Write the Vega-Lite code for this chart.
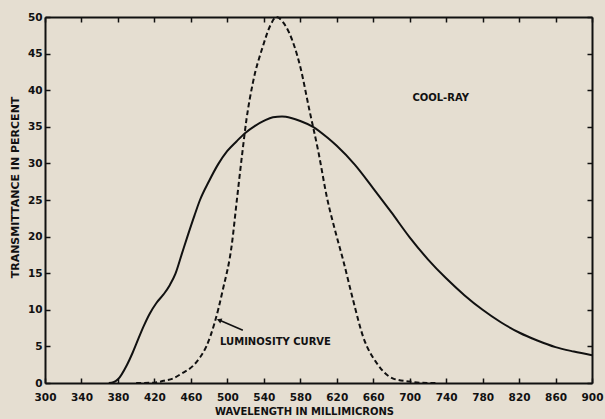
{
  "$schema": "https://vega.github.io/schema/vega-lite/v6.json",
  "width": 547,
  "height": 366,
  "autosize": {"type": "none"},
  "padding": {"left": 45, "top": 17, "right": 13, "bottom": 36},
  "background": "#e5ded1",
  "config": {
    "view": {"stroke": null},
    "font": "DejaVu Sans",
    "axis": {
      "grid": false,
      "domainColor": "#111111",
      "domainWidth": 2,
      "tickColor": "#111111",
      "tickWidth": 1.5,
      "labelColor": "#111111",
      "titleColor": "#111111",
      "labelFont": "DejaVu Sans",
      "titleFont": "DejaVu Sans",
      "labelFontSize": 10.5,
      "labelFontWeight": "bold",
      "titleFontSize": 10,
      "titleFontWeight": "bold"
    }
  },
  "datasets": {
    "cool": [
      {"nm": 370, "t": 0}, {"nm": 375, "t": 0.1}, {"nm": 380, "t": 0.5}, {"nm": 390, "t": 2.5},
      {"nm": 396, "t": 4.1}, {"nm": 400, "t": 5.3}, {"nm": 408, "t": 7.7}, {"nm": 415, "t": 9.5},
      {"nm": 422, "t": 10.9}, {"nm": 430, "t": 12.1}, {"nm": 437, "t": 13.4}, {"nm": 443, "t": 14.9},
      {"nm": 450, "t": 17.6}, {"nm": 457, "t": 20.3}, {"nm": 464, "t": 22.9}, {"nm": 470, "t": 25.0},
      {"nm": 480, "t": 27.6}, {"nm": 490, "t": 29.9}, {"nm": 500, "t": 31.7}, {"nm": 510, "t": 33.0},
      {"nm": 520, "t": 34.2}, {"nm": 530, "t": 35.1}, {"nm": 540, "t": 35.8}, {"nm": 550, "t": 36.3},
      {"nm": 560, "t": 36.4}, {"nm": 570, "t": 36.2}, {"nm": 580, "t": 35.8}, {"nm": 594, "t": 35.0},
      {"nm": 610, "t": 33.5}, {"nm": 620, "t": 32.4}, {"nm": 640, "t": 29.8}, {"nm": 660, "t": 26.6},
      {"nm": 680, "t": 23.3}, {"nm": 700, "t": 19.9}, {"nm": 720, "t": 16.9}, {"nm": 740, "t": 14.3},
      {"nm": 760, "t": 12.0}, {"nm": 780, "t": 10.0}, {"nm": 800, "t": 8.3}, {"nm": 820, "t": 6.9},
      {"nm": 840, "t": 5.8}, {"nm": 860, "t": 4.9}, {"nm": 880, "t": 4.3}, {"nm": 900, "t": 3.8}
    ],
    "lum": [
      {"nm": 400, "t": 0}, {"nm": 420, "t": 0.05}, {"nm": 430, "t": 0.3}, {"nm": 440, "t": 0.6},
      {"nm": 450, "t": 1.3}, {"nm": 462, "t": 2.3}, {"nm": 470, "t": 3.5}, {"nm": 477, "t": 5.0},
      {"nm": 486, "t": 8.2}, {"nm": 495, "t": 12.7}, {"nm": 505, "t": 19.0}, {"nm": 510, "t": 24.5},
      {"nm": 516, "t": 31.0}, {"nm": 521, "t": 36.0}, {"nm": 528, "t": 41.0}, {"nm": 539, "t": 46.0},
      {"nm": 547, "t": 48.8}, {"nm": 554, "t": 50.0}, {"nm": 561, "t": 49.3}, {"nm": 568, "t": 47.8},
      {"nm": 580, "t": 43.2}, {"nm": 590, "t": 37.3}, {"nm": 600, "t": 31.5}, {"nm": 609, "t": 25.5},
      {"nm": 620, "t": 20.0}, {"nm": 627, "t": 16.8}, {"nm": 638, "t": 11.3}, {"nm": 649, "t": 6.3},
      {"nm": 664, "t": 2.7}, {"nm": 682, "t": 0.6}, {"nm": 700, "t": 0.2}, {"nm": 720, "t": 0}, {"nm": 730, "t": 0}
    ],
    "labels": [
      {"nm": 703, "t": 39.0, "label": "COOL-RAY"},
      {"nm": 492, "t": 5.6, "label": "LUMINOSITY CURVE"}
    ],
    "arrow": [
      {"nm": 517, "t": 7.2, "nm2": 491, "t2": 8.6}
    ]
  },
  "resolve": {"axis": {"x": "independent", "y": "independent"}},
  "layer": [
    {
      "data": {"name": "cool"},
      "mark": {"type": "line", "color": "#111111", "strokeWidth": 2, "interpolate": "monotone"},
      "encoding": {
        "x": {
          "field": "nm", "type": "quantitative",
          "scale": {"domain": [300, 900], "nice": false, "zero": false},
          "axis": {
            "orient": "bottom",
            "values": [300, 340, 380, 420, 460, 500, 540, 580, 620, 660, 700, 740, 780, 820, 860, 900],
            "tickSize": -5, "labelPadding": 14, "labelFlush": false, "labelOverlap": false,
            "title": "WAVELENGTH IN MILLIMICRONS",
            "titleX": 259, "titleY": 28, "titleBaseline": "middle", "titleAnchor": "middle"
          }
        },
        "y": {
          "field": "t", "type": "quantitative",
          "scale": {"domain": [0, 50], "nice": false},
          "axis": {
            "orient": "left",
            "values": [0, 5, 10, 15, 20, 25, 30, 35, 40, 45, 50],
            "tickSize": -5, "labelPadding": 8, "labelFlush": false, "labelOverlap": false,
            "title": "TRANSMITTANCE IN PERCENT",
            "titleFontSize": 11,
            "titleX": -30, "titleY": 170, "titleAngle": -90, "titleBaseline": "middle", "titleAnchor": "middle"
          }
        }
      }
    },
    {
      "data": {"name": "lum"},
      "mark": {"type": "line", "color": "#111111", "strokeWidth": 2, "strokeDash": [5, 3], "interpolate": "monotone"},
      "encoding": {
        "x": {
          "field": "nm", "type": "quantitative",
          "axis": {
            "orient": "top",
            "values": [300, 340, 380, 420, 460, 500, 540, 580, 620, 660, 700, 740, 780, 820, 860, 900],
            "tickSize": -5, "labels": false, "title": null
          }
        },
        "y": {
          "field": "t", "type": "quantitative",
          "axis": {
            "orient": "right",
            "values": [0, 5, 10, 15, 20, 25, 30, 35, 40, 45, 50],
            "tickSize": -5, "labels": false, "title": null
          }
        }
      }
    },
    {
      "data": {"name": "labels"},
      "mark": {"type": "text", "align": "left", "baseline": "middle", "font": "DejaVu Sans", "fontSize": 10, "fontWeight": "bold", "color": "#111111"},
      "encoding": {
        "x": {"field": "nm", "type": "quantitative", "axis": null},
        "y": {"field": "t", "type": "quantitative", "axis": null},
        "text": {"field": "label"}
      }
    },
    {
      "data": {"name": "arrow"},
      "mark": {"type": "rule", "color": "#111111", "strokeWidth": 1.5},
      "encoding": {
        "x": {"field": "nm", "type": "quantitative", "axis": null},
        "y": {"field": "t", "type": "quantitative", "axis": null},
        "x2": {"field": "nm2"},
        "y2": {"field": "t2"}
      }
    },
    {
      "data": {"name": "arrow"},
      "mark": {"type": "point", "shape": "triangle-left", "filled": true, "color": "#111111", "size": 30, "angle": 22, "opacity": 1},
      "encoding": {
        "x": {"field": "nm2", "type": "quantitative", "axis": null},
        "y": {"field": "t2", "type": "quantitative", "axis": null}
      }
    }
  ]
}
